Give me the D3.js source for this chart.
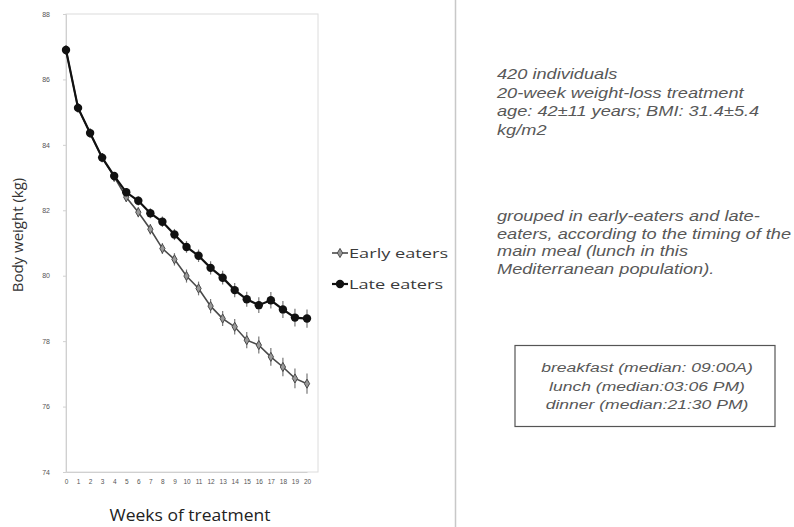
<!DOCTYPE html>
<html>
<head>
<meta charset="utf-8">
<script src="https://cdn.jsdelivr.net/npm/d3@7/dist/d3.min.js"></script>
<style>
  html, body { margin: 0; padding: 0; background: #fff; }
  svg { display: block; }
</style>
</head>
<body>
<svg id="chart" width="794" height="527"></svg>
<script>
// Weeks of the weight-loss programme
const weeks = d3.range(0, 21);

// Mean body weight (kg) per week
const earlyEaters = [86.90, 85.13, 84.36, 83.61, 83.02, 82.40, 81.94, 81.42, 80.83, 80.50,
                     79.99, 79.61, 79.07, 78.69, 78.44, 78.03, 77.88, 77.52, 77.21, 76.86, 76.70];
const lateEaters  = [86.90, 85.13, 84.36, 83.61, 83.05, 82.55, 82.29, 81.91, 81.65, 81.26,
                     80.88, 80.61, 80.24, 79.94, 79.56, 79.28, 79.10, 79.25, 78.97, 78.72, 78.69];

// Standard errors (kg)
const earlyErr = [0.05, 0.08, 0.10, 0.12, 0.13, 0.14, 0.15, 0.16, 0.17, 0.19, 0.20,
                  0.21, 0.22, 0.23, 0.24, 0.25, 0.26, 0.27, 0.28, 0.30, 0.31];
const lateErr  = [0.05, 0.08, 0.10, 0.11, 0.12, 0.13, 0.14, 0.15, 0.16, 0.17, 0.18,
                  0.19, 0.20, 0.21, 0.22, 0.23, 0.24, 0.25, 0.26, 0.27, 0.28];

const yTicks = [74, 76, 78, 80, 82, 84, 86, 88];
const seriesNames = ["Early eaters", "Late eaters"];

const studyNotes = [
  "420 individuals",
  "20-week weight-loss treatment",
  "age: 42\u00b111 years; BMI: 31.4\u00b15.4",
  "kg/m2"
];
const groupNotes = [
  "grouped in early-eaters and late-",
  "eaters, according to the timing of the",
  "main meal (lunch in this",
  "Mediterranean population)."
];
const mealTimes = [
  "breakfast (median: 09:00A)",
  "lunch (median:03:06 PM)",
  "dinner (median:21:30 PM)"
];

const svg = d3.select("#chart");
const font = "'Liberation Sans', Arial, sans-serif";
const labelFont = "'Open Sans', sans-serif";
// the figure is set in a wide face; text is stretched horizontally
const stretch = 1.3;

const plot = { left: 66, right: 318, top: 14, bottom: 472 };

const x = d3.scalePoint().domain(weeks).range([66, 307]);
const y = d3.scaleLinear().domain([74, 88]).range([plot.bottom, plot.top]);

// plot-area frame
svg.append("rect")
  .attr("x", plot.left).attr("y", plot.top)
  .attr("width", plot.right - plot.left).attr("height", plot.bottom - plot.top)
  .attr("fill", "none").attr("stroke", "#dcdcdc").attr("stroke-width", 1);

// y axis
const yAxis = svg.append("g")
  .attr("transform", `translate(${plot.left},0)`)
  .call(d3.axisLeft(y).tickValues(yTicks).tickSize(3).tickPadding(13).tickFormat(d3.format("d")));
yAxis.select(".domain").attr("stroke", "#d0d0d0");
yAxis.selectAll(".tick line").attr("stroke", "#d0d0d0");
yAxis.selectAll("text").attr("font-family", font).attr("font-size", 7).attr("fill", "#555");

// x axis
const xAxis = svg.append("g")
  .attr("transform", `translate(0,${plot.bottom})`)
  .call(d3.axisBottom(x).tickSize(0).tickPadding(7));
xAxis.select(".domain").attr("stroke", "#d0d0d0");
xAxis.selectAll("text").attr("font-family", font).attr("font-size", 6.5).attr("fill", "#555");

// axis titles
svg.append("text")
  .attr("transform", `translate(23,${(plot.top + plot.bottom) / 2 - 8}) rotate(-90)`)
  .attr("text-anchor", "middle")
  .attr("font-family", labelFont).attr("font-size", 15).attr("fill", "#333")
  .text("Body weight (kg)");
svg.append("text")
  .attr("transform", "translate(190,521) scale(1.06,1)")
  .attr("text-anchor", "middle")
  .attr("font-family", labelFont).attr("font-size", 16.5).attr("fill", "#222")
  .text("Weeks of treatment");

const series = [
  { name: seriesNames[0], values: earlyEaters, err: earlyErr, color: "#4a4a4a", width: 1.6, marker: "diamond" },
  { name: seriesNames[1], values: lateEaters, err: lateErr, color: "#111", width: 2.2, marker: "circle" }
];

const line = d3.line().x((d, i) => x(weeks[i])).y(d => y(d));

function drawMarker(sel, s) {
  if (s.marker === "circle") {
    sel.append("circle").attr("r", 4.2).attr("fill", s.color);
  } else {
    sel.append("path")
      .attr("d", d3.symbol(d3.symbolDiamond, 24)())
      .attr("fill", "#999").attr("stroke", s.color).attr("stroke-width", 1);
  }
}

series.forEach(s => {
  const g = svg.append("g");
  // error bars
  g.selectAll("line.err").data(s.values).enter().append("line")
    .attr("x1", (d, i) => x(weeks[i])).attr("x2", (d, i) => x(weeks[i]))
    .attr("y1", (d, i) => y(d - s.err[i])).attr("y2", (d, i) => y(d + s.err[i]))
    .attr("stroke", "#777").attr("stroke-width", 1.2);
  g.append("path").datum(s.values).attr("d", line)
    .attr("fill", "none").attr("stroke", s.color).attr("stroke-width", s.width);
  g.selectAll("g.pt").data(s.values).enter().append("g")
    .attr("transform", (d, i) => `translate(${x(weeks[i])},${y(d)})`)
    .each(function () { drawMarker(d3.select(this), s); });
});

// legend
const legend = svg.append("g");
series.forEach((s, i) => {
  const ly = 253 + i * 31;
  const lg = legend.append("g");
  lg.append("line").attr("x1", 332).attr("x2", 348).attr("y1", ly).attr("y2", ly)
    .attr("stroke", s.color).attr("stroke-width", s.width);
  const m = lg.append("g").attr("transform", `translate(340,${ly})`);
  drawMarker(m, s);
  lg.append("text").attr("transform", `translate(349,${ly + 4.5}) scale(1.4,1)`)
    .attr("font-family", labelFont).attr("font-size", 13).attr("fill", "#3a3a3a")
    .text(s.name);
});

// divider between chart and notes
svg.append("line").attr("x1", 455.5).attr("x2", 455.5).attr("y1", 0).attr("y2", 527)
  .attr("stroke", "#c8c8c8").attr("stroke-width", 1.5);

// study notes
const notes = svg.append("g").attr("font-family", font).attr("font-style", "italic")
  .attr("font-size", 14).attr("fill", "#585858");
studyNotes.forEach((t, i) => {
  notes.append("text").attr("transform", `translate(497,${79 + i * 18.7}) scale(${stretch},1)`).text(t);
});
groupNotes.forEach((t, i) => {
  notes.append("text").attr("transform", `translate(497,${221 + i * 17.5}) scale(${stretch},1)`).text(t);
});

// meal timing box
svg.append("rect").attr("x", 515).attr("y", 345.5).attr("width", 260).attr("height", 81)
  .attr("fill", "#fff").attr("stroke", "#555").attr("stroke-width", 1.2);
mealTimes.forEach((t, i) => {
  svg.append("text").attr("transform", `translate(647,${372 + i * 18.5}) scale(${stretch},1)`)
    .attr("text-anchor", "middle")
    .attr("font-family", font).attr("font-style", "italic").attr("font-size", 13.5)
    .attr("fill", "#585858").text(t);
});
</script>
</body>
</html>
